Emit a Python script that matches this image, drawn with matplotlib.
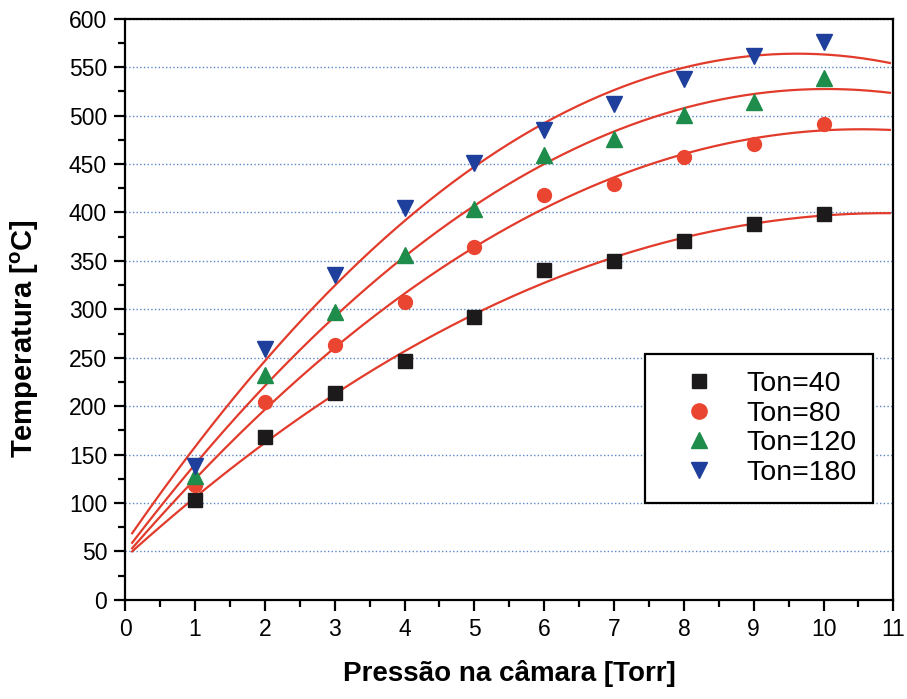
import numpy as np
import matplotlib
matplotlib.use("Agg")
import matplotlib.pyplot as plt
from matplotlib.ticker import MultipleLocator

plt.rcParams['font.family'] = ['Liberation Sans', 'DejaVu Sans']

pressure = [1, 2, 3, 4, 5, 6, 7, 8, 9, 10]
ton40 = [103, 168, 214, 247, 292, 341, 350, 371, 388, 398]
ton80 = [119, 204, 263, 308, 364, 418, 429, 457, 471, 491]
ton120 = [128, 232, 297, 356, 404, 459, 476, 501, 514, 539]
ton180 = [138, 259, 335, 405, 451, 485, 512, 538, 562, 576]
labels = ['Ton=40', 'Ton=80', 'Ton=120', 'Ton=180']

series = [ton40, ton80, ton120, ton180]
markers = ['s', 'o', '^', 'v']
msizes = [9.5, 10, 11, 11]
colors = ['#1c1a1a', '#ea4530', '#1e8c4a', '#1f3f9c']

fig = plt.figure(figsize=(9.07, 6.99), dpi=100)
ax = fig.add_axes([0.138, 0.142, 0.847, 0.831])

xfit = np.linspace(0.1, 10.95, 200)
for ys in series:
    c = np.polyfit(pressure, ys, 2)
    ax.plot(xfit, np.polyval(c, xfit), color='#e23b2b', lw=1.6, zorder=2)

for ys, m, ms, col, lab in zip(series, markers, msizes, colors, labels):
    ax.plot(pressure, ys, linestyle='none', marker=m, color=col,
            markersize=ms, label=lab, zorder=3)

ax.set_xlim(0, 11)
ax.set_ylim(0, 600)
ax.xaxis.set_major_locator(MultipleLocator(1))
ax.xaxis.set_minor_locator(MultipleLocator(0.5))
ax.yaxis.set_major_locator(MultipleLocator(50))
ax.yaxis.set_minor_locator(MultipleLocator(25))
ax.tick_params(which='major', direction='out', length=8, width=1.6, labelsize=16.5, pad=5)
ax.tick_params(which='minor', direction='out', length=5, width=1.6)
for s in ax.spines.values():
    s.set_linewidth(1.6)
ax.yaxis.grid(True, which='major', color='#5a86c8', linestyle=':', linewidth=1.0)
ax.set_axisbelow(True)

ax.set_xlabel('Pressão na câmara [Torr]', fontsize=20, fontweight='bold', labelpad=14)
ax.set_ylabel('Temperatura [$\\mathregular{^oC}$]', fontsize=21, fontweight='bold')
ax.yaxis.set_label_coords(-0.11, 0.45)

leg = ax.legend(loc='lower right', bbox_to_anchor=(0.974, 0.167), borderaxespad=0,
                fontsize=20.5, frameon=True, fancybox=False, edgecolor='black',
                framealpha=1, handletextpad=0.36, borderpad=0.6, labelspacing=0.12,
                handlelength=2.6, markerscale=1.1)
leg.get_frame().set_linewidth(1.6)

fig.savefig('out.png', dpi=100)
